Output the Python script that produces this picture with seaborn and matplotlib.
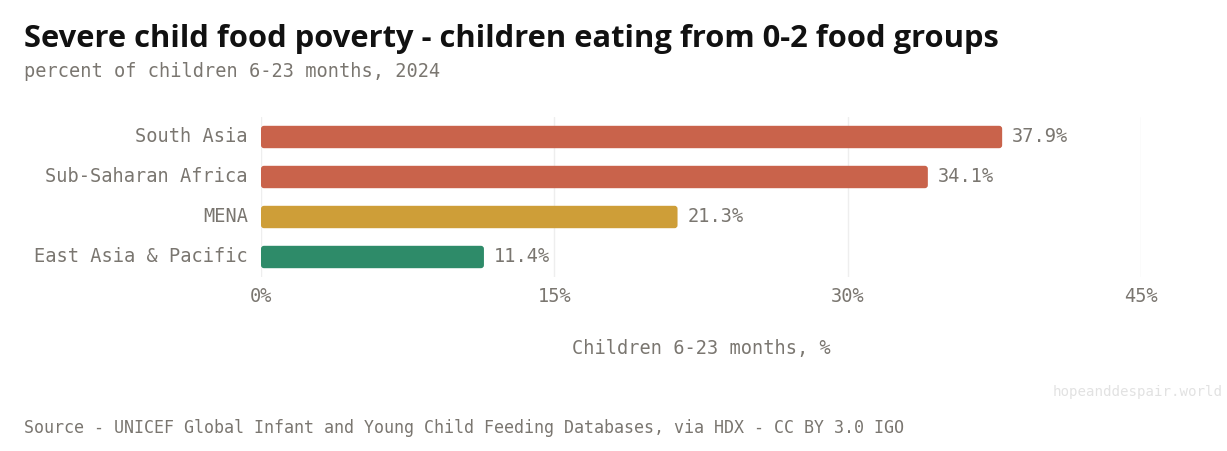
import matplotlib
matplotlib.use("Agg")
import matplotlib.pyplot as plt
from matplotlib.patches import FancyBboxPatch
import seaborn as sns
import pandas as pd

regions = ["South Asia", "Sub-Saharan Africa", "MENA", "East Asia & Pacific"]
values = [37.9, 34.1, 21.3, 11.4]
bar_colors = ["#C9634B", "#C9634B", "#CE9E38", "#2E8B69"]
x_ticks = [0, 15, 30, 45]
x_tick_labels = ["0%", "15%", "30%", "45%"]

df = pd.DataFrame({"region": regions, "value": values})

sns.set_theme(style="white")
plt.rcParams["font.family"] = ["DejaVu Sans Mono", "DejaVu Sans"]

W, H = 1227, 451
fig = plt.figure(figsize=(W / 100, H / 100), dpi=100)
ax = fig.add_axes([261 / W, 1 - 277 / H, 880 / W, 160 / H])

sns.barplot(data=df, y="region", x="value", hue="region",
            palette=dict(zip(regions, bar_colors)), orient="h", saturation=1,
            width=0.56, legend=False, ax=ax, zorder=3)

ax.set_xlim(0, 45)
ax.set_ylim(3.5, -0.5)
ax.set_xticks(x_ticks)
ax.set_xticklabels(x_tick_labels)
ax.grid(axis="x", color="#eeeeee", linewidth=1, zorder=0)
ax.grid(axis="y", visible=False)
for s in ax.spines.values():
    s.set_visible(False)

# rounded bar corners
px_x = 45 / 880.0   # data units per pixel in x
px_y = 4 / 160.0    # data units per pixel in y
for p in list(ax.patches):
    x0, y0 = p.get_x(), p.get_y()
    w, h = p.get_width(), p.get_height()
    rp = FancyBboxPatch((x0, y0), w, h,
                        boxstyle=f"round,pad=0,rounding_size={3 * px_x}",
                        mutation_aspect=px_y / px_x,
                        facecolor=p.get_facecolor(), edgecolor="none", zorder=3)
    ax.add_patch(rp)
    p.set_visible(False)

text_gray = "#7a7670"
ax.tick_params(axis="x", length=0, pad=7, labelsize=13.4, labelcolor=text_gray)
ax.tick_params(axis="y", length=0, pad=9.5, labelsize=13.4, labelcolor=text_gray)
for t in ax.get_yticklabels():
    t.set_verticalalignment("center")
ax.set_ylabel("")
ax.set_xlabel("Children 6-23 months, %", fontsize=13.4, color=text_gray, labelpad=24)

for c in ax.containers:
    ax.bar_label(c, labels=[f"{v:.1f}%" for v in c.datavalues], padding=7,
                 fontsize=13.4, color=text_gray)

fig.text(24 / W, 1 - 47 / H, "Severe child food poverty - children eating from 0-2 food groups",
         fontsize=22.2, fontweight="bold", color="#111111", family=["Open Sans", "DejaVu Sans"],
         va="baseline", ha="left")
fig.text(24 / W, 1 - 77 / H, "percent of children 6-23 months, 2024",
         fontsize=13.4, color=text_gray, va="baseline", ha="left")
fig.text(24 / W, 1 - 433 / H,
         "Source - UNICEF Global Infant and Young Child Feeding Databases, via HDX - CC BY 3.0 IGO",
         fontsize=12, color=text_gray, va="baseline", ha="left")
fig.text(1223 / W, 1 - 396 / H, "hopeanddespair.world", fontsize=10.2,
         color="#e2e2e2", va="baseline", ha="right")

fig.savefig("out.png", dpi=100, facecolor="white")
